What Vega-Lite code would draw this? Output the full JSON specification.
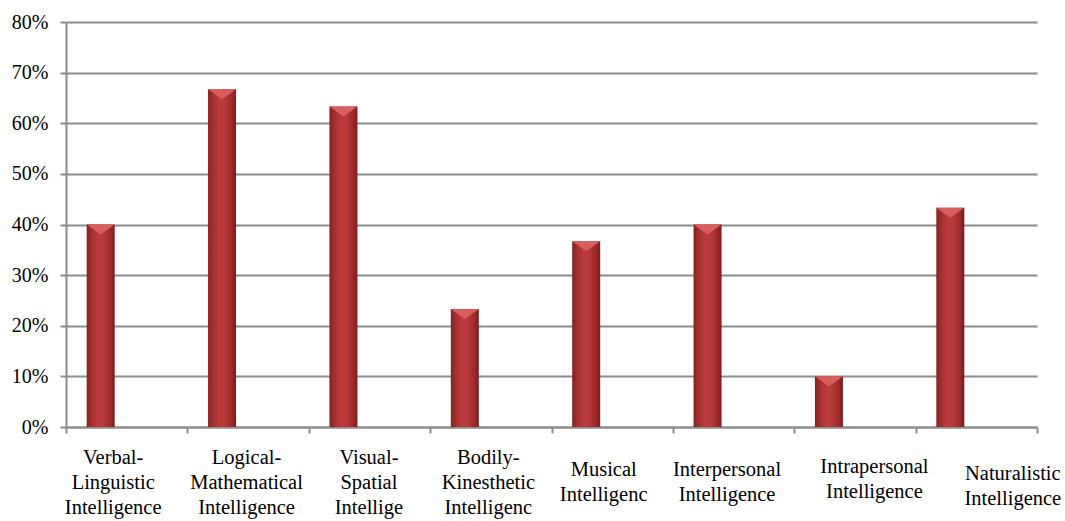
{
  "$schema": "https://vega.github.io/schema/vega-lite/v6.json",
  "autosize": {"type": "none"},
  "width": 971,
  "height": 405,
  "padding": {"left": 66, "top": 22, "right": 28, "bottom": 94},
  "background": "white",
  "data": {
    "values": [
      {"type": "Verbal-|Linguistic|Intelligence", "pct": 0.4},
      {"type": "Logical-|Mathematical|Intelligence", "pct": 0.667},
      {"type": "Visual-|Spatial|Intellige", "pct": 0.633},
      {"type": "Bodily-|Kinesthetic|Intelligenc", "pct": 0.233},
      {"type": "Musical|Intelligenc", "pct": 0.367},
      {"type": "Interpersonal|Intelligence", "pct": 0.4},
      {"type": "Intrapersonal|Intelligence", "pct": 0.1},
      {"type": "Naturalistic|Intelligence", "pct": 0.433}
    ]
  },
  "config": {
    "view": {"stroke": null},
    "font": "Liberation Serif"
  },
  "encoding": {
    "x": {
      "field": "type",
      "type": "nominal",
      "sort": null,
      "scale": {"paddingInner": 0, "paddingOuter": 0},
      "axis": {
        "title": null,
        "labelAngle": 0,
        "labelExpr": "isValid(datum.value) ? split(datum.value, '|') : ''",
        "labelFont": "Liberation Serif",
        "labelFontSize": 20.5,
        "labelColor": "black",
        "labelLineHeight": 25,
        "labelBaseline": "top",
        "labelPadding": {
          "condition": [
            {"test": "datum.value == 'Naturalistic|Intelligence'", "value": 30},
            {"test": "datum.value == 'Intrapersonal|Intelligence'", "value": 23},
            {"test": "datum.value == 'Musical|Intelligenc' || datum.value == 'Interpersonal|Intelligence'", "value": 26}
          ],
          "value": 14
        },
        "labelOffset": {
          "condition": [
            {"test": "datum.value == 'Verbal-|Linguistic|Intelligence'", "value": -14},
            {"test": "datum.value == 'Logical-|Mathematical|Intelligence'", "value": -2},
            {"test": "datum.value == 'Visual-|Spatial|Intellige'", "value": -1},
            {"test": "datum.value == 'Bodily-|Kinesthetic|Intelligenc'", "value": -3},
            {"test": "datum.value == 'Musical|Intelligenc'", "value": -9},
            {"test": "datum.value == 'Interpersonal|Intelligence'", "value": -7},
            {"test": "datum.value == 'Intrapersonal|Intelligence'", "value": 19},
            {"test": "datum.value == 'Naturalistic|Intelligence'", "value": 36}
          ],
          "value": 0
        },
        "labelLimit": 0,
        "tickBand": "extent",
        "tickSize": 6,
        "tickColor": "#8c8c8c",
        "tickWidth": 2,
        "domainColor": "#8c8c8c",
        "domainWidth": 2,
        "labelOverlap": false
      }
    },
    "y": {
      "field": "pct",
      "type": "quantitative",
      "scale": {"domain": [0, 0.8], "nice": false},
      "axis": {
        "title": null,
        "format": ".0%",
        "values": [0, 0.1, 0.2, 0.3, 0.4, 0.5, 0.6, 0.7, 0.8],
        "labelFont": "Liberation Serif",
        "labelFontSize": 20,
        "labelColor": "black",
        "labelPadding": 12,
        "tickSize": 6,
        "tickColor": "#8c8c8c",
        "tickWidth": 2,
        "gridColor": "#8c8c8c",
        "gridWidth": 2,
        "domainColor": "#8c8c8c",
        "domainWidth": 2
      }
    }
  },
  "layer": [
    {
      "mark": {
        "type": "bar",
        "width": 28,
        "xOffset": -26,
        "color": {
          "gradient": "linear",
          "x1": 0, "x2": 1, "y1": 0, "y2": 0,
          "stops": [
            {"offset": 0, "color": "#84201f"},
            {"offset": 0.15, "color": "#a02d2e"},
            {"offset": 0.4, "color": "#bb3b3b"},
            {"offset": 0.6, "color": "#b8393a"},
            {"offset": 0.85, "color": "#9a2a2b"},
            {"offset": 1, "color": "#7a1c1d"}
          ]
        }
      }
    },
    {
      "mark": {
        "type": "point",
        "shape": "M-1,-0.36L1,-0.36L0,0.36Z",
        "size": 784,
        "filled": true,
        "opacity": 1,
        "xOffset": -26,
        "yOffset": 5,
        "color": "#d85e5e"
      }
    }
  ]
}
